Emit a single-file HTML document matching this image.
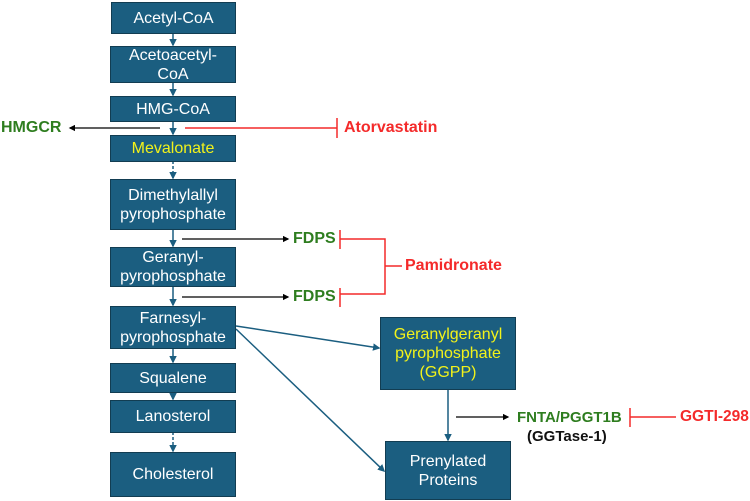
<!DOCTYPE html>
<html><head><style>
body{margin:0;width:750px;height:501px;background:#fff;position:relative;overflow:hidden;font-family:"Liberation Sans",sans-serif}
.b{position:absolute;background:#1b5e80;border:1.5px solid #123d52;box-sizing:border-box;color:#fff;font-size:16px;line-height:19px;display:flex;align-items:center;justify-content:center;text-align:center}
.y{color:#f2f21a}
.t{position:absolute;font-weight:bold;font-size:16px;white-space:nowrap}
.g{color:#2e7d1f}.r{color:#f42a2a}.k{color:#111}
svg{position:absolute;left:0;top:0}
</style></head><body>
<svg width="750" height="501">
<defs>
<marker id="a" markerWidth="5" markerHeight="5" refX="4" refY="2.5" orient="auto"><path d="M0,0L5,2.5L0,5z" fill="#000"/></marker>
<marker id="bl" markerWidth="5" markerHeight="5" refX="4" refY="2.5" orient="auto"><path d="M0,0L5,2.5L0,5z" fill="#1b5e80"/></marker>
</defs>
<g stroke="#1b5e80" stroke-width="1.5" fill="none">
<line x1="173" y1="33" x2="173" y2="45" marker-end="url(#bl)"/>
<line x1="173" y1="82" x2="173" y2="95" marker-end="url(#bl)"/>
<line x1="173" y1="121" x2="173" y2="134" marker-end="url(#bl)"/>
<line x1="173" y1="161" x2="173" y2="178" stroke-dasharray="3,2" marker-end="url(#bl)"/>
<line x1="173" y1="229" x2="173" y2="246" marker-end="url(#bl)"/>
<line x1="173" y1="286" x2="173" y2="305" marker-end="url(#bl)"/>
<line x1="173" y1="348" x2="173" y2="362" marker-end="url(#bl)"/>
<line x1="173" y1="392" x2="173" y2="399" marker-end="url(#bl)"/>
<line x1="173" y1="432" x2="173" y2="451" stroke-dasharray="3,2" marker-end="url(#bl)"/>
<line x1="236" y1="326" x2="379" y2="348" marker-end="url(#bl)"/>
<line x1="236" y1="329" x2="384" y2="471" marker-end="url(#bl)"/>
<line x1="448" y1="389" x2="448" y2="440" marker-end="url(#bl)"/>
</g>
<g stroke="#000" stroke-width="1.3">
<line x1="160" y1="128" x2="70" y2="128" marker-end="url(#a)"/>
<line x1="182" y1="239" x2="288" y2="239" marker-end="url(#a)"/>
<line x1="182" y1="297" x2="288" y2="297" marker-end="url(#a)"/>
<line x1="456" y1="417" x2="508" y2="417" marker-end="url(#a)"/>
</g>
<g stroke="#f42a2a" stroke-width="1.5" fill="none">
<line x1="185" y1="128" x2="337" y2="128"/><line x1="337" y1="118" x2="337" y2="138"/>
<line x1="340" y1="230" x2="340" y2="249"/><line x1="340" y1="288" x2="340" y2="307"/>
<polyline points="340,239 385,239 385,294 340,294"/><line x1="385" y1="266" x2="402" y2="266"/>
<line x1="630" y1="408" x2="630" y2="427"/><line x1="630" y1="417" x2="676" y2="417"/>
</g>
</svg>
<div class="b" style="left:111px;top:2px;width:125px;height:32px">Acetyl-CoA</div>
<div class="b" style="left:110px;top:46px;width:126px;height:37px">Acetoacetyl-<br>CoA</div>
<div class="b" style="left:110px;top:96px;width:126px;height:26px">HMG-CoA</div>
<div class="b y" style="left:110px;top:135px;width:126px;height:27px">Mevalonate</div>
<div class="b" style="left:110px;top:179px;width:126px;height:51px">Dimethylallyl<br>pyrophosphate</div>
<div class="b" style="left:110px;top:247px;width:126px;height:40px">Geranyl-<br>pyrophosphate</div>
<div class="b" style="left:110px;top:306px;width:126px;height:43px">Farnesyl-<br>pyrophosphate</div>
<div class="b" style="left:110px;top:363px;width:126px;height:30px">Squalene</div>
<div class="b" style="left:110px;top:400px;width:126px;height:33px">Lanosterol</div>
<div class="b" style="left:110px;top:452px;width:126px;height:45px">Cholesterol</div>
<div class="b y" style="left:380px;top:317px;width:136px;height:73px">Geranylgeranyl<br>pyrophosphate<br>(GGPP)</div>
<div class="b" style="left:385px;top:441px;width:126px;height:59px">Prenylated<br>Proteins</div>
<div class="t g" style="left:1px;top:119px">HMGCR</div>
<div class="t r" style="left:344px;top:119px">Atorvastatin</div>
<div class="t g" style="left:293px;top:230px">FDPS</div>
<div class="t g" style="left:293px;top:288px">FDPS</div>
<div class="t r" style="left:405px;top:257px">Pamidronate</div>
<div class="t g" style="left:517px;top:409px;font-size:15px">FNTA/PGGT1B</div>
<div class="t k" style="left:527px;top:428px;font-size:15px">(GGTase-1)</div>
<div class="t r" style="left:680px;top:408px;font-size:15.5px">GGTI-298</div>
</body></html>
